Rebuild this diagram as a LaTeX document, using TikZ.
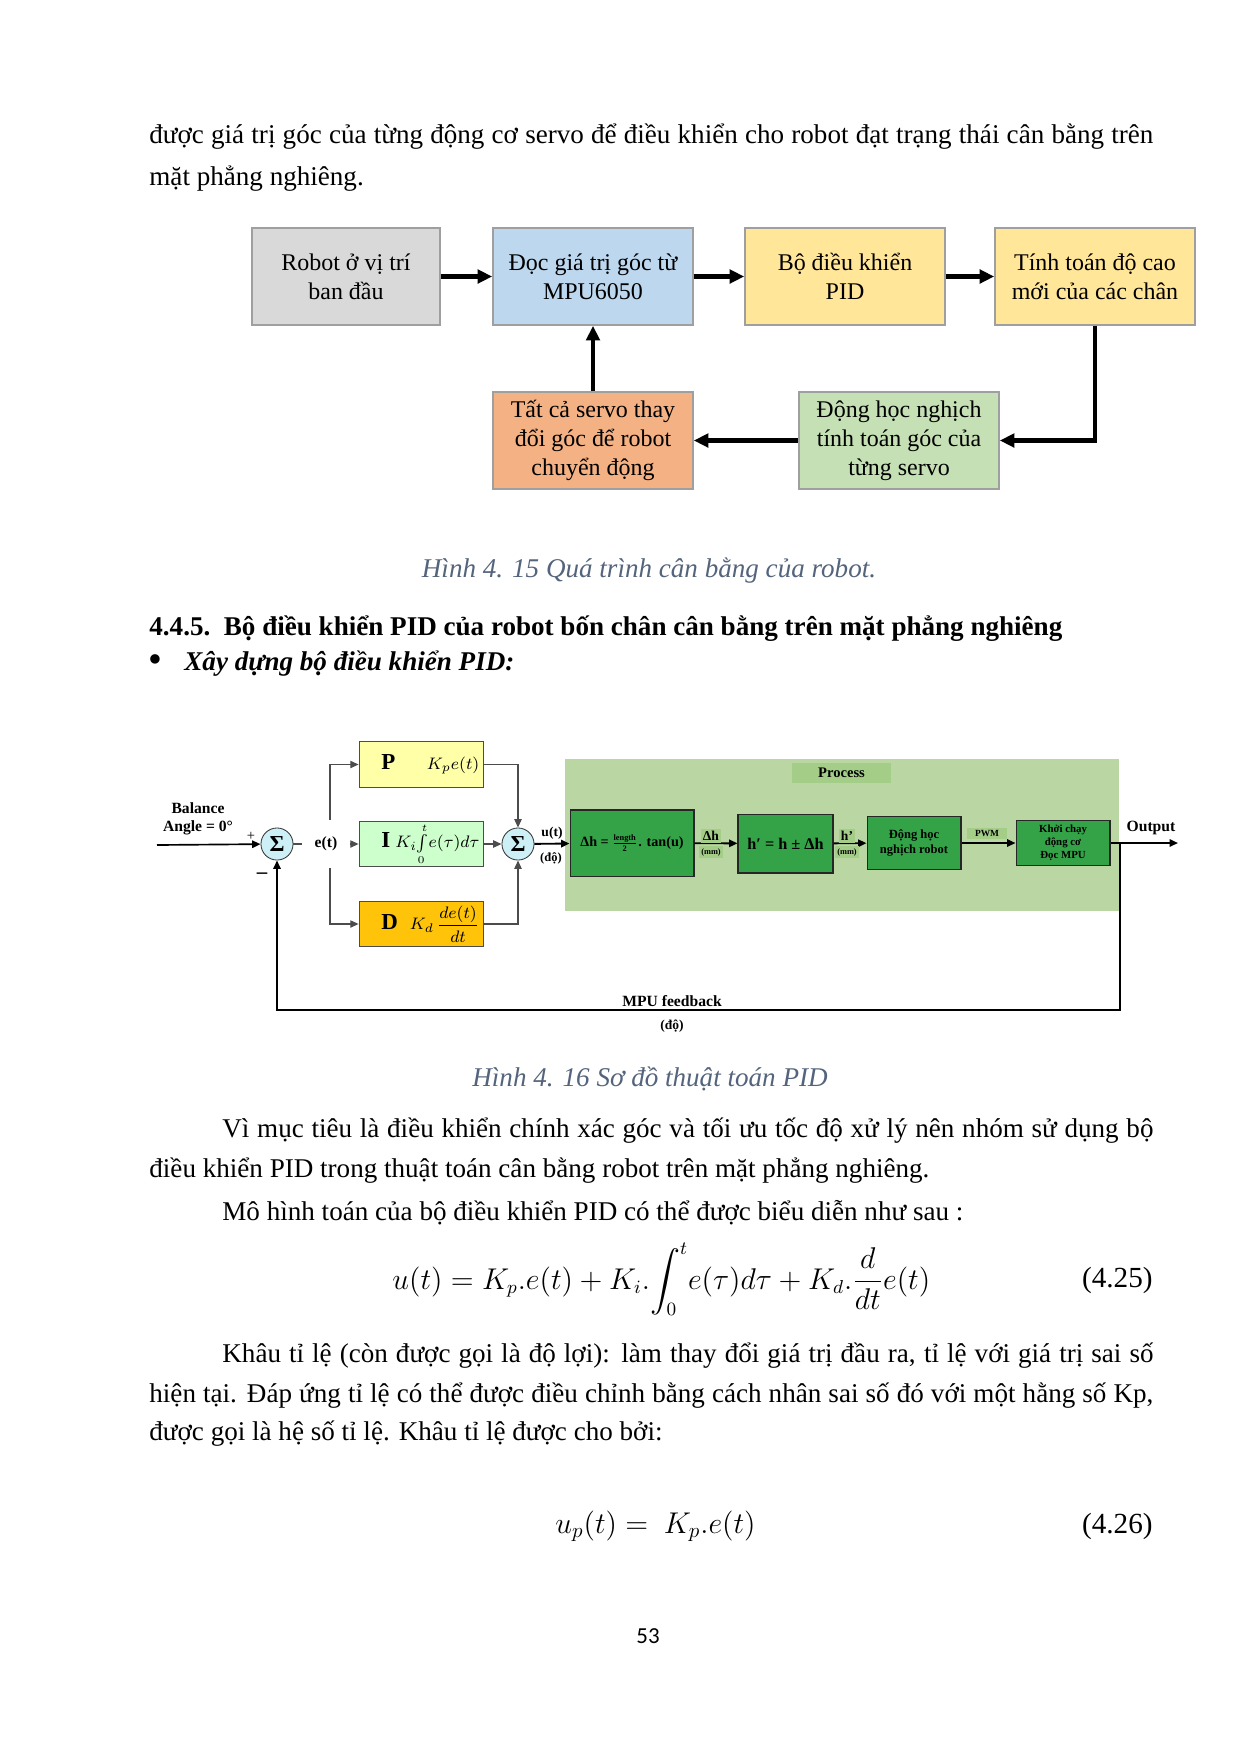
\documentclass[tikz,border=0pt]{standalone}
\usepackage{fontspec}
\setmainfont{Liberation Serif}
\newfontfamily\pagefont{Carlito}
\usepackage{amsmath}
\usetikzlibrary{arrows.meta,positioning,calc}
\definecolor{capC}{RGB}{84,100,124}
\definecolor{boxgray}{RGB}{217,217,217}
\definecolor{boxblue}{RGB}{189,215,238}
\definecolor{boxyellow}{RGB}{255,230,153}
\definecolor{boxorange}{RGB}{244,177,131}
\definecolor{boxgreen}{RGB}{197,224,180}
\definecolor{procbg}{RGB}{186,215,163}
\definecolor{proclab}{RGB}{164,205,136}
\definecolor{blockC}{RGB}{52,163,72}
\definecolor{pC}{RGB}{255,255,168}
\definecolor{iC}{RGB}{204,255,204}
\definecolor{dC}{RGB}{255,196,10}
\definecolor{sumC}{RGB}{204,240,245}
\newcommand{\fullline}[1]{\makebox[481.9pt][s]{#1}}
\newcommand{\indline}[1]{\makebox[446.9pt][s]{#1}}
\newcommand{\pidletter}[1]{\hspace*{9pt}\fontsize{11}{11}\selectfont\bfseries #1}
\tikzset{
  body/.style={anchor=base west, inner sep=0pt, font=\fontsize{13}{16}\selectfont},
  figcap/.style={anchor=base, inner sep=0pt, font=\fontsize{13}{16}\selectfont\itshape, text=capC},
  stepbox/.style={rectangle, draw=gray!75, line width=0.8pt, fill=#1,
                  minimum width=96pt, minimum height=46.6pt, inner sep=2pt,
                  align=center, font=\fontsize{11.5}{14}\selectfont},
  fat/.style={line width=2pt, -{Triangle[length=7pt,width=6.5pt]}},
  pidbox/.style={rectangle, draw=black!70, fill=#1, minimum width=59.5pt,
                 minimum height=21.8pt, text width=56pt, inner sep=0pt,
                 font=\fontsize{8.5}{9}\selectfont},
  sumnode/.style={circle, draw=black!80, fill=sumC, minimum size=15.4pt,
                  inner sep=0pt, font=\bfseries\fontsize{11}{11}\selectfont},
  gblock/.style={rectangle, draw=black!85, line width=0.5pt, fill=blockC,
                 inner sep=0pt, align=center},
  glab/.style={fill=proclab, inner sep=1pt, font=\bfseries\fontsize{6.5}{7}\selectfont},
  mmlab/.style={fill=proclab, inner sep=1pt, font=\bfseries\fontsize{4}{5}\selectfont},
  lbltext/.style={inner sep=0pt, font=\bfseries\fontsize{7.5}{8.5}\selectfont, align=center},
}

\begin{document}
\begin{tikzpicture}[
  x=0.48pt, y=-0.48pt,
  thinarr/.style={-{Triangle[length=4pt,width=3.5pt]}, line width=0.6pt, black!70},
  sigarr/.style={-{Triangle[length=4pt,width=3.5pt]}, line width=0.9pt, black},
]
\useasboundingbox[fill=white] (0,0) rectangle (1240,1754);

% text above the first figure
\node[body] (t1) at (149,143) {\fullline{được giá trị góc của từng động cơ servo để điều khiển cho robot đạt trạng thái cân bằng trên}};
\node[body] (t2) at (149,185) {mặt phẳng nghiêng.};

% figure 4.15
\node[stepbox=boxgray, minimum width=90.2pt] (rob) at (346,276.5) {Robot ở vị trí\\ban đầu};
\node[stepbox=boxblue] (mpu) at (593,276.5) {Đọc giá trị góc từ\\MPU6050};
\node[stepbox=boxyellow] (pid) at (845,276.5) {Bộ điều khiển\\PID};
\node[stepbox=boxyellow] (hgt) at (1095,276.5) {Tính toán độ cao\\mới của các chân};
\node[stepbox=boxorange] (srv) at (593,440.5) {Tất cả servo thay\\đổi góc để robot\\chuyển động};
\node[stepbox=boxgreen] (ik) at (899,440.5) {Động học nghịch\\tính toán góc của\\từng servo};
\draw[fat] (rob) -- (mpu);
\draw[fat] (mpu) -- (pid);
\draw[fat] (pid) -- (hgt);
\draw[fat] (hgt.south) |- (ik.east);
\draw[fat] (ik) -- (srv);
\draw[fat] (srv) -- (mpu);
\node[figcap] (c1) at (649,577) {Hình 4. 15 Quá trình cân bằng của robot.};

\node[body, font=\fontsize{13}{16}\selectfont\bfseries] (h1) at (149,635) {4.4.5.\ \ Bộ điều khiển PID của robot bốn chân cân bằng trên mặt phẳng nghiêng};
\node[body, font=\fontsize{19}{19}\selectfont] (bul) at (148,672) {•};
\node[body, font=\fontsize{13}{16}\selectfont\bfseries\itshape] (h2) at (184,670) {Xây dựng bộ điều khiển PID:};

% figure 4.16
\node[fill=procbg, minimum width=265.9pt, minimum height=73pt, inner sep=0pt] (proc) at (842,835) {};
\node[fill=proclab, minimum width=47.5pt, minimum height=9.6pt, inner sep=0pt,
      font=\bfseries\fontsize{7}{8}\selectfont] (plbl) at (841.5,773) {Process};

\node[lbltext] (bal) at (198,819) {Balance\\Angle = 0°};
\node[sumnode] (s1) at (277,844) {Σ};
\node[lbltext, font=\fontsize{7}{8}\selectfont] (plus) at (251,836) {+};
\node[lbltext, font=\bfseries\fontsize{10}{10}\selectfont] (minus) at (262,876) {–};
\node[pidbox=pC] (pb) at (421,764.5) {\pidletter{P}\hfill\fontsize{8.5}{9}\selectfont$K_p e(t)$\hspace*{4pt}};
\node[pidbox=iC] (ib) at (421,844) {\pidletter{I}\hfill\fontsize{8}{9}\selectfont$K_i\!\int\limits_{\scriptscriptstyle 0}^{\scriptscriptstyle t}\! e(\tau)d\tau$\hspace*{2pt}};
\node[pidbox=dC] (db) at (421,924) {\pidletter{D}\hfill\fontsize{8.5}{9}\selectfont$K_d\,\dfrac{de(t)}{dt}$\hspace*{6pt}};
\node[sumnode] (s2) at (518,844) {Σ};

\node[gblock, minimum width=59.5pt, minimum height=31.7pt] (g1) at (632,843)
  {\bfseries\fontsize{6.8}{8}\selectfont Δh =\,$\frac{\mbox{\bfseries\fontsize{4}{5}\selectfont length}}{\mbox{\bfseries\fontsize{4}{5}\selectfont 2}}$. tan(u)};
\node[gblock, minimum width=45.6pt, minimum height=28.3pt] (g2) at (785.5,843.5)
  {\bfseries\fontsize{7.8}{8}\selectfont h′ =\ h ± Δh};
\node[gblock, minimum width=45.1pt, minimum height=25pt, font=\bfseries\fontsize{6}{7}\selectfont] (g3) at (914,843)
  {Động học\\nghịch robot};
\node[gblock, minimum width=45.1pt, minimum height=22pt, font=\bfseries\fontsize{5.2}{6.2}\selectfont] (g4) at (1063,843)
  {Khởi chạy\\động cơ\\Đọc MPU};

\coordinate (br) at (330,844);
\coordinate (outsplit) at (1120,843);
\coordinate (outend) at (1178,843);
\coordinate (fb) at (1120,1010);

\draw[sigarr, line width=0.8pt] (157,845) -- (s1);
\draw[thinarr, -] (s1) -- (br);
\draw[thinarr] (br) -- (ib);
\draw[thinarr] (br) |- (pb);
\draw[thinarr] (br) |- (db);
\draw[thinarr] (pb) -| (s2);
\draw[thinarr] (db) -| (s2);
\draw[thinarr] (ib) -- (s2);
\node[lbltext, fill=white, minimum width=23pt, minimum height=23pt] (et) at (326,844) {e(t)};
\draw[sigarr] (s2) -- (g1);
\node[lbltext, font=\bfseries\fontsize{6.5}{7}\selectfont] (ut) at (552,833) {u(t)};
\node[lbltext, font=\bfseries\fontsize{6}{7}\selectfont] (udo) at (551,858) {(độ)};
\draw[sigarr] (g1) -- (g2);
\node[glab] (dh) at (711,836) {Δh};
\node[mmlab] (dhmm) at (711,852) {(mm)};
\draw[sigarr] (g2) -- (g3);
\node[glab] (hp) at (847,836) {h'};
\node[mmlab] (hpmm) at (847,852) {(mm)};
\draw[sigarr] (g3) -- (g4);
\node[mmlab, font=\bfseries\fontsize{4.5}{5}\selectfont, minimum width=19pt] (pwm) at (987,833.5) {PWM};
\draw[sigarr] (g4) -- (outend);
\node[lbltext] (out) at (1151,828) {Output};
\draw[sigarr] (outsplit) -- (fb) -| (s1);
\node[lbltext] (mpufb) at (672,1001) {MPU feedback};
\node[lbltext, font=\bfseries\fontsize{6.5}{7}\selectfont] (fbdo) at (672,1026) {(độ)};
\node[figcap] (c2) at (650,1086) {Hình 4. 16 Sơ đồ thuật toán PID};

% text below the second figure
\node[body] (p1) at (222,1137) {\indline{Vì mục tiêu là điều khiển chính xác góc và tối ưu tốc độ xử lý nên nhóm sử dụng bộ}};
\node[body] (p2) at (149,1177) {điều khiển PID trong thuật toán cân bằng robot trên mặt phẳng nghiêng.};
\node[body] (p3) at (222,1220) {Mô hình toán của bộ điều khiển PID có thể được biểu diễn như sau :};
\node[body, font=\fontsize{13.5}{16}\selectfont] (eq1) at (392,1289)
  {$\displaystyle u(t)=K_p.e(t)+K_i.\!\int_0^t\! e(\tau)d\tau+K_d.\frac{d}{dt}e(t)$};
\node[body, anchor=base east, font=\fontsize{14}{17}\selectfont] (n1) at (1153,1287) {(4.25)};
\node[body] (p4) at (222,1362) {\indline{Khâu tỉ lệ (còn được gọi là độ lợi): làm thay đổi giá trị đầu ra, tỉ lệ với giá trị sai số}};
\node[body] (p5) at (149,1402) {\fullline{hiện tại. Đáp ứng tỉ lệ có thể được điều chỉnh bằng cách nhân sai số đó với một hằng số Kp,}};
\node[body] (p6) at (149,1440) {được gọi là hệ số tỉ lệ. Khâu tỉ lệ được cho bởi:};
\node[body, font=\fontsize{14}{17}\selectfont] (eq2) at (555,1533) {$u_p(t)=\ K_p.e(t)$};
\node[body, anchor=base east, font=\fontsize{14}{17}\selectfont] (n2) at (1153,1533) {(4.26)};
\node[anchor=base, inner sep=0pt, font=\pagefont\fontsize{11}{13}\selectfont] (pg) at (648,1643) {53};
\end{tikzpicture}
\end{document}
